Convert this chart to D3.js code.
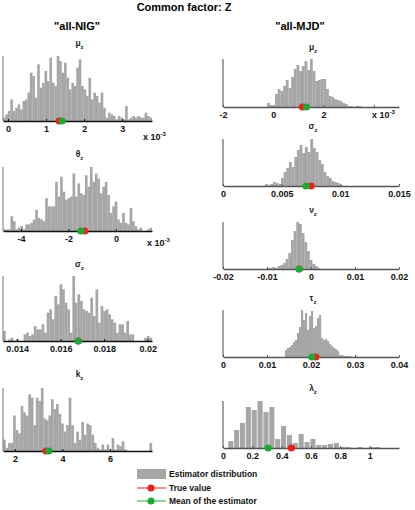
<!DOCTYPE html>
<html>
<head>
<meta charset="utf-8">
<script src="https://cdn.jsdelivr.net/npm/d3@7"></script>
<style>
  body { margin: 0; background: #fff; }
  svg { font-family: "Liberation Sans", Arial, sans-serif; }
</style>
</head>
<body>
<div id="chart"></div>
<script>
// ---- data (bin counts, bin start / width, markers, ticks) ----

// all-NIG column
const nigMuCounts = [2,4,6,13,6,8,10,7,12,13,17,29,27,14,34,20,23,30,24,38,23,21,39,36,29,35,26,19,23,21,32,37,21,19,15,26,13,17,15,11,17,8,2,5,4,3,1,3,2,1,9,1,2,3,2,3,2,2,5,3,2]
const nigMuDomain = [-0.13, 3.78]
const nigMuTicks = [0, 1, 2, 3]
const nigMuTickLabels = ["0", "1", "2", "3"]
const nigMuTrue = 1.34, nigMuMean = 1.42

const nigThetaCounts = [1,1,1,9,6,1,2,3,1,4,4,5,7,13,8,7,6,20,15,15,15,30,21,33,24,19,20,21,35,21,29,23,22,34,27,39,30,35,32,23,27,30,22,11,15,18,7,5,11,5,4,14,6,3,1,2,0,0,1,2]
const nigThetaDomain = [-4.76, 1.52]
const nigThetaTicks = [-4, -2, 0]
const nigThetaTickLabels = ["-4", "-2", "0"]
const nigThetaTrue = -1.31, nigThetaMean = -1.48

const nigSigmaCounts = [6,0,1,2,0,1,0,0,4,5,3,4,9,7,7,10,5,17,19,13,27,22,34,31,23,19,5,39,23,28,24,19,18,17,26,15,31,11,21,18,19,16,13,11,5,10,10,5,12,4,4,0,0,0,0,2,3,2]
const nigSigmaDomain = [0.01335, 0.0202]
const nigSigmaTicks = [0.014, 0.016, 0.018, 0.02]
const nigSigmaTickLabels = ["0.014", "0.016", "0.018", "0.02"]
const nigSigmaTrue = 0.01681, nigSigmaMean = 0.01681

const nigKCounts = [7,2,5,5,22,13,11,28,24,22,35,33,16,33,31,39,20,19,22,32,26,29,23,17,12,16,33,16,5,12,7,18,10,17,16,10,5,2,1,4,1,4,1,8,1,4,3,6,1,0,0,0,0,0,0,0,0,0,5]
const nigKDomain = [1.5, 7.77]
const nigKTicks = [2, 4, 6]
const nigKTickLabels = ["2", "4", "6"]
const nigKTrue = 3.31, nigKMean = 3.43

// all-MJD column
const mjdMuCounts = [4,2,1,13,18,16,21,27,19,30,38,42,36,41,46,37,48,36,26,27,28,28,18,11,10,8,7,6,4,3,1,1,0,1,1]
const mjdMuBinStart = -0.25, mjdMuBinWidth = 0.1067
const mjdMuDomain = [-2, 5]
const mjdMuTicks = [-2, 0, 2, 4]
const mjdMuTickLabels = ["-2", "0", "2", ""]
const mjdMuTrue = 1.16, mjdMuMean = 1.32

const mjdSigmaCounts = [2,1,2,4,3,2,8,14,18,24,19,29,36,41,33,39,34,47,38,34,26,22,14,10,8,5,4,3,1]
const mjdSigmaBinStart = 0.00358, mjdSigmaBinWidth = 0.000227
const mjdSigmaDomain = [0, 0.015]
const mjdSigmaTicks = [0, 0.005, 0.01, 0.015]
const mjdSigmaTickLabels = ["0", "0.005", "0.01", "0.015"]
const mjdSigmaTrue = 0.0075, mjdSigmaMean = 0.00707

const mjdNuCounts = [1,1,2,1,3,4,6,10,16,29,38,47,45,36,27,18,9,5,3,1]
const mjdNuBinStart = -0.0100, mjdNuBinWidth = 0.000606
const mjdNuDomain = [-0.02, 0.02]
const mjdNuTicks = [-0.02, -0.01, 0, 0.01, 0.02]
const mjdNuTickLabels = ["-0.02", "-0.01", "0", "0.01", "0.02"]
const mjdNuTrue = -0.0027, mjdNuMean = -0.0027

const mjdTauCounts = [7,9,10,12,15,17,24,30,47,37,44,27,41,46,29,31,39,42,19,17,18,16,13,11,9,8,6,2,2,1,1,1,1,0,0,1]
const mjdTauBinStart = 0.01409, mjdTauBinWidth = 0.000455
const mjdTauDomain = [0, 0.04]
const mjdTauTicks = [0, 0.01, 0.02, 0.03, 0.04]
const mjdTauTickLabels = ["0", "0.01", "0.02", "0.03", "0.04"]
const mjdTauTrue = 0.0211, mjdTauMean = 0.0202

const mjdLambdaCounts = [7,18,25,41,38,47,36,41,9,22,13,5,14,6,9,3,3,4,5,1,1,0,1,0,1,1]
const mjdLambdaBinStart = 0.033, mjdLambdaBinWidth = 0.04
const mjdLambdaDomain = [0, 1.2]
const mjdLambdaTicks = [0, 0.2, 0.4, 0.6, 0.8, 1]
const mjdLambdaTickLabels = ["0", "0.2", "0.4", "0.6", "0.8", "1"]
const mjdLambdaTrue = 0.466, mjdLambdaMean = 0.308

const legendLabels = ["Estimator distribution", "True value", "Mean of the estimator"]

// ---- layout ----
const W = 415, H = 510
const barColor = "#a6a6a6"
const red = "#e8231b", green = "#1fa83a"

const svg = d3.select("#chart").append("svg")
  .attr("width", W).attr("height", H)

svg.append("text").attr("x", 184).attr("y", 11).attr("text-anchor", "middle")
  .style("font-size", "11px").style("font-weight", "bold").text("Common factor: Z")
svg.append("text").attr("x", 77).attr("y", 30).attr("text-anchor", "middle")
  .style("font-size", "11px").style("font-weight", "bold").text('"all-NIG"')
svg.append("text").attr("x", 300).attr("y", 30).attr("text-anchor", "middle")
  .style("font-size", "11px").style("font-weight", "bold").text('"all-MJD"')

const L = {x0: 3, x1: 152, axisColor: "#111", yColor: "#8a8a8a"}
const R = {x0: 223, x1: 399, axisColor: "#555", yColor: "#666"}

const panels = [
  {col: L, sym: "μ", counts: nigMuCounts, domain: nigMuDomain, ticks: nigMuTicks, labels: nigMuTickLabels,
   tv: nigMuTrue, mv: nigMuMean, top: 56, base: 121, titleY: 46, exp: [143, 140]},
  {col: L, sym: "θ", counts: nigThetaCounts, domain: nigThetaDomain, ticks: nigThetaTicks, labels: nigThetaTickLabels,
   tv: nigThetaTrue, mv: nigThetaMean, top: 167, base: 231, titleY: 157, exp: [147, 246]},
  {col: L, sym: "σ", counts: nigSigmaCounts, domain: nigSigmaDomain, ticks: nigSigmaTicks, labels: nigSigmaTickLabels,
   tv: nigSigmaTrue, mv: nigSigmaMean, top: 276, base: 341, titleY: 267},
  {col: L, sym: "k", counts: nigKCounts, domain: nigKDomain, ticks: nigKTicks, labels: nigKTickLabels,
   tv: nigKTrue, mv: nigKMean, top: 388, base: 451, titleY: 377},
  {col: R, sym: "μ", counts: mjdMuCounts, start: mjdMuBinStart, width: mjdMuBinWidth, domain: mjdMuDomain,
   ticks: mjdMuTicks, labels: mjdMuTickLabels, tv: mjdMuTrue, mv: mjdMuMean, top: 59, base: 107, titleY: 50, exp: [372, 118]},
  {col: R, sym: "σ", counts: mjdSigmaCounts, start: mjdSigmaBinStart, width: mjdSigmaBinWidth, domain: mjdSigmaDomain,
   ticks: mjdSigmaTicks, labels: mjdSigmaTickLabels, tv: mjdSigmaTrue, mv: mjdSigmaMean, top: 139, base: 186, titleY: 129},
  {col: R, sym: "ν", counts: mjdNuCounts, start: mjdNuBinStart, width: mjdNuBinWidth, domain: mjdNuDomain,
   ticks: mjdNuTicks, labels: mjdNuTickLabels, tv: mjdNuTrue, mv: mjdNuMean, top: 222, base: 269, titleY: 213},
  {col: R, sym: "τ", counts: mjdTauCounts, start: mjdTauBinStart, width: mjdTauBinWidth, domain: mjdTauDomain,
   ticks: mjdTauTicks, labels: mjdTauTickLabels, tv: mjdTauTrue, mv: mjdTauMean, top: 310, base: 357, titleY: 301},
  {col: R, sym: "λ", counts: mjdLambdaCounts, start: mjdLambdaBinStart, width: mjdLambdaBinWidth, domain: mjdLambdaDomain,
   ticks: mjdLambdaTicks, labels: mjdLambdaTickLabels, tv: mjdLambdaTrue, mv: mjdLambdaMean, top: 401, base: 448, titleY: 391, gap: true}
]

panels.forEach(p => {
  const g = svg.append("g")
  const x = d3.scaleLinear().domain(p.domain).range([p.col.x0, p.col.x1])
  const y = d3.scaleLinear().domain([0, d3.max(p.counts)]).range([p.base, p.top])

  // NIG histograms fill the axis limits (axis tight)
  const start = p.start !== undefined ? p.start : p.domain[0]
  const bw = p.width !== undefined ? p.width : (p.domain[1] - p.domain[0]) / p.counts.length
  const bins = p.counts.map((c, i) => ({a: start + i * bw, b: start + (i + 1) * bw, c: c}))

  g.selectAll("rect.bar").data(bins).enter().append("rect")
    .attr("class", "bar")
    .attr("x", d => x(d.a) + (p.gap ? 0.4 : 0))
    .attr("width", d => Math.max(0, x(d.b) - x(d.a) - (p.gap ? 0.8 : -0.15)))
    .attr("y", d => y(d.c))
    .attr("height", d => p.base - y(d.c))
    .attr("fill", barColor)

  // y axis (no ticks)
  g.append("line")
    .attr("x1", p.col.x0).attr("x2", p.col.x0)
    .attr("y1", p.base).attr("y2", p.top)
    .attr("stroke", p.col.yColor).attr("stroke-width", 1.2)

  // x axis
  const ax = g.append("g")
    .attr("transform", "translate(0," + p.base + ")")
    .call(d3.axisBottom(x).tickValues(p.ticks)
      .tickFormat((d, i) => p.labels[i])
      .tickSizeInner(-2).tickSizeOuter(0).tickPadding(5))
  ax.select(".domain").attr("stroke", p.col.axisColor).attr("stroke-width", 1.4)
  ax.selectAll(".tick line").attr("stroke", p.col.axisColor)
  ax.selectAll(".tick text")
    .style("font-size", "9px").style("font-weight", "bold")
    .attr("fill", "#111")
  ax.attr("font-family", null)

  // markers: true value then mean on top
  g.append("circle").attr("cx", x(p.tv)).attr("cy", p.base).attr("r", 3.6).attr("fill", red)
  g.append("circle").attr("cx", x(p.mv)).attr("cy", p.base).attr("r", 3.6).attr("fill", green)

  // panel title with subscript
  const t = g.append("text")
    .attr("x", (p.col.x0 + p.col.x1) / 2 + 2).attr("y", p.titleY)
    .attr("text-anchor", "middle")
    .style("font-size", "8.5px").style("font-weight", "bold").attr("fill", "#222")
  t.append("tspan").text(p.sym)
  t.append("tspan").attr("dy", 3).style("font-size", "6px").text("z")

  if (p.exp) {
    const e = g.append("text").attr("x", p.exp[0]).attr("y", p.exp[1])
      .style("font-size", "9px").style("font-weight", "bold").attr("fill", "#111")
    e.append("tspan").text("x 10")
    e.append("tspan").attr("dy", -4).style("font-size", "6px").text("-3")
  }
})

// legend
const lg = svg.append("g")
lg.append("rect").attr("x", 137).attr("y", 469).attr("width", 29).attr("height", 10).attr("fill", barColor)
lg.append("line").attr("x1", 137).attr("x2", 166).attr("y1", 488).attr("y2", 488).attr("stroke", red)
lg.append("circle").attr("cx", 151).attr("cy", 488).attr("r", 3.6).attr("fill", red)
lg.append("line").attr("x1", 137).attr("x2", 166).attr("y1", 501).attr("y2", 501).attr("stroke", green)
lg.append("circle").attr("cx", 151).attr("cy", 501).attr("r", 3.6).attr("fill", green)
lg.selectAll("text.lab").data(legendLabels).enter().append("text")
  .attr("class", "lab")
  .attr("x", 169).attr("y", (d, i) => [477, 491, 504][i])
  .style("font-size", "8.5px").style("font-weight", "bold").attr("fill", "#111")
  .text(d => d)
</script>
</body>
</html>
